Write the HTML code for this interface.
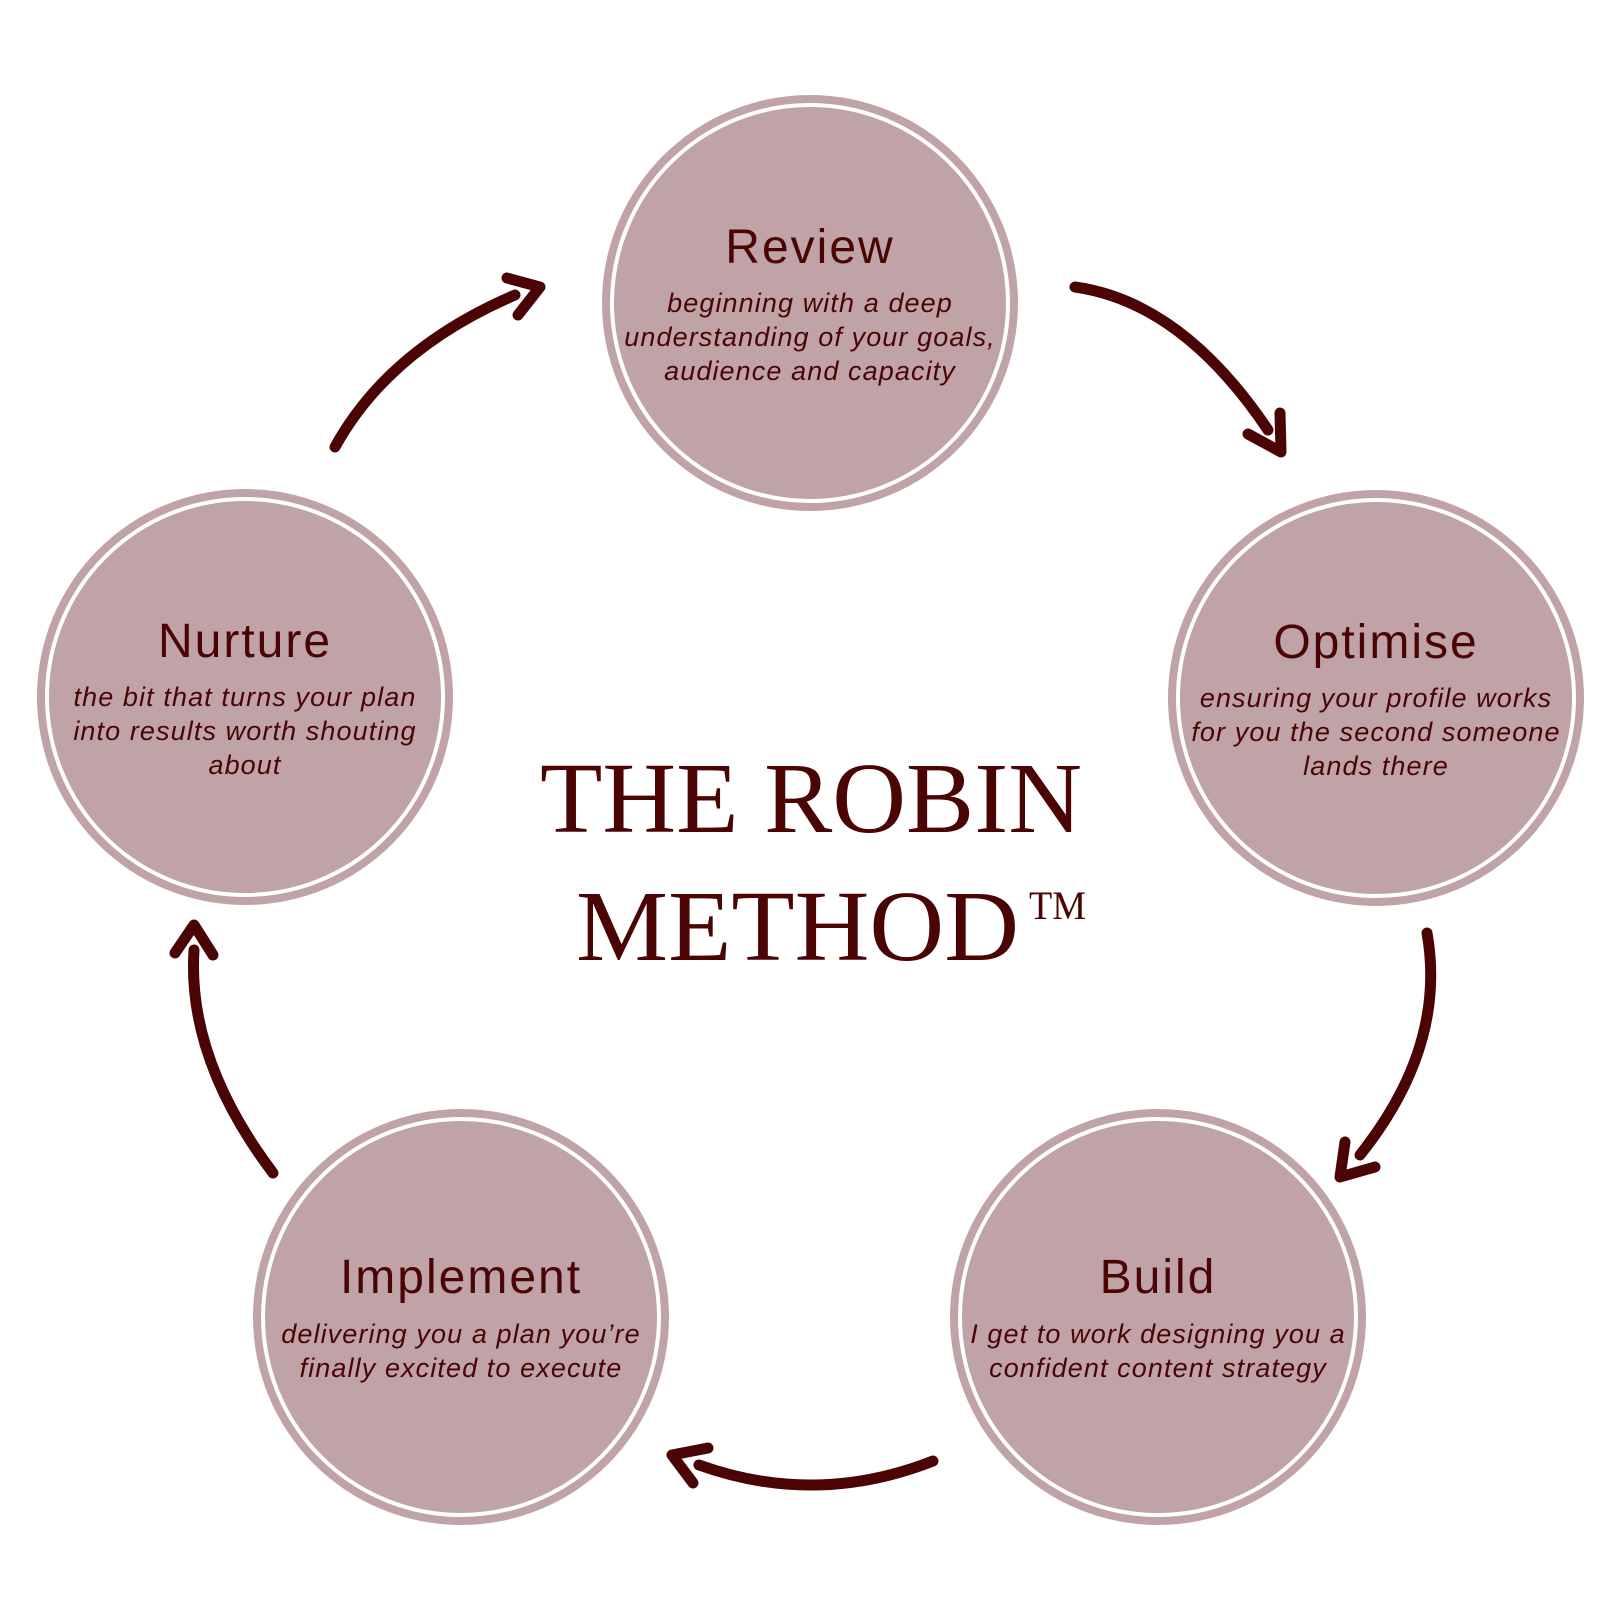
<!DOCTYPE html>
<html><head><meta charset="utf-8"><style>
html,body{margin:0;padding:0;background:#fff;}
svg{display:block;}
.h{font-family:"Liberation Sans",sans-serif;font-size:48px;fill:#4a0404;text-anchor:middle;letter-spacing:2px;}
.s{font-family:"Liberation Sans",sans-serif;font-style:italic;font-size:27px;fill:#4a0404;text-anchor:middle;letter-spacing:1.1px;}
.t{font-family:"Liberation Serif",serif;font-size:101px;fill:#4a0404;}
.a{fill:none;stroke:#4a0404;stroke-width:11;stroke-linecap:round;stroke-linejoin:round;}
</style></head><body>
<svg width="1620" height="1620" viewBox="0 0 1620 1620" xmlns="http://www.w3.org/2000/svg">
<g fill="#bfa3a6">
<circle cx="810" cy="303" r="208"/><circle cx="1376" cy="698" r="208"/><circle cx="245" cy="697" r="208"/>
<circle cx="1158" cy="1317" r="208"/><circle cx="461" cy="1317" r="208"/>
</g>
<g fill="#bfa3a6" stroke="#fff" stroke-width="4">
<circle cx="810" cy="303" r="198"/><circle cx="1376" cy="698" r="198"/><circle cx="245" cy="697" r="198"/>
<circle cx="1158" cy="1317" r="198"/><circle cx="461" cy="1317" r="198"/>
</g>

<text class="h" x="810" y="263">Review</text>
<text class="s" x="810" y="312">beginning with a deep</text>
<text class="s" x="810" y="346">understanding of your goals,</text>
<text class="s" x="810" y="380">audience and capacity</text>

<text class="h" x="1376" y="658">Optimise</text>
<text class="s" x="1376" y="707">ensuring your profile works</text>
<text class="s" x="1376" y="741">for you the second someone</text>
<text class="s" x="1376" y="775">lands there</text>

<text class="h" x="245" y="657">Nurture</text>
<text class="s" x="245" y="706">the bit that turns your plan</text>
<text class="s" x="245" y="740">into results worth shouting</text>
<text class="s" x="245" y="774">about</text>

<text class="h" x="1158" y="1293">Build</text>
<text class="s" x="1158" y="1343">I get to work designing you a</text>
<text class="s" x="1158" y="1377">confident content strategy</text>

<text class="h" x="461" y="1293">Implement</text>
<text class="s" x="461" y="1343">delivering you a plan you’re</text>
<text class="s" x="461" y="1377">finally excited to execute</text>

<text class="t" x="540" y="832" textLength="542" lengthAdjust="spacingAndGlyphs">THE ROBIN</text>
<text class="t" x="576" y="960" textLength="443" lengthAdjust="spacingAndGlyphs">METHOD</text>
<text x="1029" y="919" font-family="Liberation Serif,serif" font-size="40" fill="#4a0404" textLength="57" lengthAdjust="spacingAndGlyphs">TM</text>

<path class="a" d="M1075,287 Q1182,302 1268,430"/>
<path class="a" d="M1280,413 L1281,452 L1248,434"/>
<path class="a" d="M1427,933 Q1447,1046 1360,1155"/>
<path class="a" d="M1345,1142 L1340,1177 L1375,1167"/>
<path class="a" d="M933,1461 Q816,1507 699,1465"/>
<path class="a" d="M708,1448 L672,1455 L693,1483"/>
<path class="a" d="M273,1173 Q187,1059 194,950"/>
<path class="a" d="M175,953 L194,925 L213,955"/>
<path class="a" d="M335,447 Q389,349 515,295"/>
<path class="a" d="M507,278 L540,287 L518,315"/>
</svg>
</body></html>
